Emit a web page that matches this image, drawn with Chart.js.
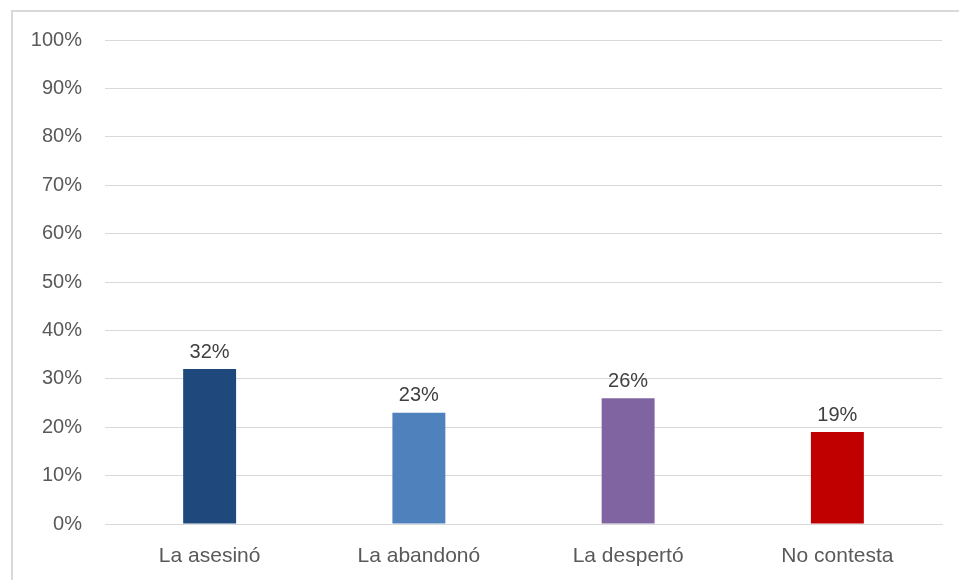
<!DOCTYPE html>
<html>
<head>
<meta charset="utf-8">
<script src="https://cdn.jsdelivr.net/npm/chart.js@4"></script>
<style>
  html, body { margin: 0; padding: 0; background: #fff; }
  #wrap { position: relative; width: 959px; height: 580px; }
  #frame { position: absolute; left: 11px; top: 10px; right: 0; bottom: 0;
           border-top: 2px solid #d9d9d9; border-left: 2px solid #d9d9d9; }
  canvas { position: absolute; left: 0; top: 0; }
</style>
</head>
<body>
<div id="wrap">
  <div id="frame"></div>
  <canvas id="chart" width="959" height="580"></canvas>
</div>
<script>
const categories = ['La asesinó', 'La abandonó', 'La despertó', 'No contesta'];
const values = [32, 23, 26, 19];
const barColors = ['#1F497D', '#4F81BD', '#8064A2', '#C00000'];
const yTicks = [0, 10, 20, 30, 40, 50, 60, 70, 80, 90, 100];

// labels above each bar
const valueLabels = {
  id: 'valueLabels',
  afterDatasetsDraw(chart) {
    const ctx = chart.ctx;
    ctx.save();
    ctx.font = '20px "Liberation Sans", Arial, sans-serif';
    ctx.fillStyle = '#404040';
    ctx.textAlign = 'center';
    ctx.textBaseline = 'middle';
    chart.getDatasetMeta(0).data.forEach((bar, i) => {
      ctx.fillText(values[i] + '%', bar.x, bar.y - 17);
    });
    ctx.restore();
  }
};

const config = {
  type: 'bar',
  data: {
    labels: categories,
    datasets: [{
      data: values,
      backgroundColor: barColors,
      borderWidth: 0,
      barPercentage: 1,
      categoryPercentage: 0.253
    }]
  },
  options: {
    responsive: false,
    animation: false,
    layout: { padding: { left: 0, right: 17, top: 40, bottom: 0 } },
    plugins: {
      legend: { display: false },
      tooltip: { enabled: false }
    },
    scales: {
      x: {
        grid: { display: false, drawTicks: false },
        border: { display: true, color: '#d9d9d9', width: 1 },
        ticks: {
          color: '#595959',
          padding: 20,
          font: { family: '"Liberation Sans", Arial, sans-serif', size: 21 }
        },
        afterFit(s) { s.height = 56; }
      },
      y: {
        min: 0,
        max: 100,
        afterBuildTicks(s) { s.ticks = yTicks.map(v => ({ value: v })); },
        grid: { color: '#d9d9d9', lineWidth: 1, drawTicks: false },
        border: { display: false },
        ticks: {
          color: '#595959',
          padding: 23,
          font: { family: '"Liberation Sans", Arial, sans-serif', size: 20 },
          callback: v => v + '%'
        },
        afterFit(s) { s.width = 105; }
      }
    }
  },
  plugins: [valueLabels]
};

new Chart(document.getElementById('chart'), config);
</script>
</body>
</html>
